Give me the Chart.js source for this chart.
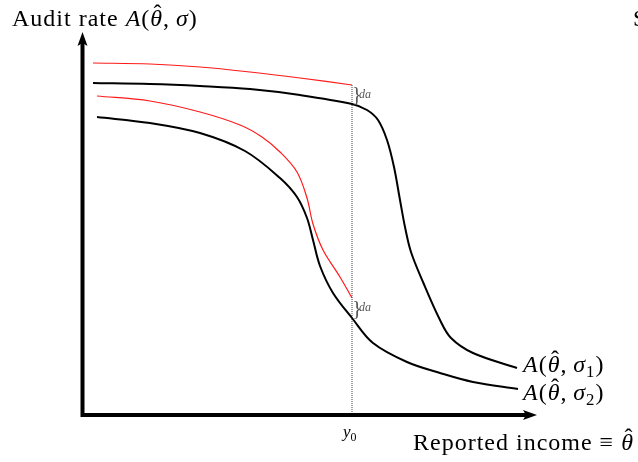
<!DOCTYPE html>
<html>
<head>
<meta charset="utf-8">
<script src="https://cdn.jsdelivr.net/npm/chart.js@4.4.1/dist/chart.umd.min.js"></script>
<style>
  html, body { margin: 0; padding: 0; background: #fff; }
  #chart { display: block; }
</style>
</head>
<body>
<canvas id="chart" width="638" height="462"></canvas>
<script>
/* Audit rate curves — conceptual plot, arbitrary units (origin at the axis corner) */

var sigma1X = [12, 69, 119, 169, 219, 271, 286, 297, 306, 313, 319, 324, 330, 342, 359, 370, 392, 436];
var sigma1Y = [332, 331, 329, 326, 320, 311, 305, 295, 275, 248, 215, 188, 163, 133, 95, 77, 62, 47];

var sigma2X = [16, 69, 119, 164, 199, 216, 226, 232, 239, 252, 271, 292, 326, 359, 392, 437];
var sigma2Y = [298, 292, 282, 264, 237, 218, 197, 175, 149, 122, 97, 72, 53, 42, 33, 26];

var shift1X = [12, 69, 119, 169, 219, 271];
var shift1Y = [352, 351, 348, 343, 337, 330];

var shift2X = [16, 69, 119, 159, 181, 199, 216, 226, 232, 242, 259, 271];
var shift2Y = [319, 314, 303, 290, 278, 263, 243, 217, 191, 165, 138, 117];

var y0Value = 271;
var braceTops = [330, 117];
var braceBottoms = [311, 97];

var FONT = '"Liberation Serif", "DejaVu Serif", serif';

function toPoints(xs, ys) {
  return xs.map(function(x, i) { return { x: x, y: ys[i] }; });
}

function curve(xs, ys, color, width) {
  return {
    data: toPoints(xs, ys),
    showLine: true,
    borderColor: color,
    borderWidth: width,
    pointRadius: 0,
    tension: 0.35,
    fill: false
  };
}

// text made of runs: italic, subscript and hat over a letter
function drawRuns(ctx, x, y, runs, size) {
  runs.forEach(function(r) {
    var fs = r.sub ? size * 0.7 : size;
    ctx.font = (r.it ? 'italic ' : '') + fs + 'px ' + FONT;
    var dy = r.sub ? size * 0.22 : 0;
    ctx.fillText(r.t, x, y + dy);
    var w = ctx.measureText(r.t).width;
    if (r.hat) {
      ctx.save();
      ctx.font = fs + 'px ' + FONT;
      ctx.textAlign = 'center';
      ctx.fillText('\u02c6', x + w / 2 + size * 0.06, y - size * 0.2);
      ctx.restore();
    }
    x += w;
  });
}

function aLabel(sub) {
  var runs = [
    { t: 'A', it: true }, { t: '(' }, { t: '\u03b8', it: true, hat: true },
    { t: ',\u2009' }, { t: '\u03c3', it: true }
  ];
  if (sub) runs.push({ t: sub, sub: true });
  runs.push({ t: ')' });
  return runs;
}

var decorPlugin = {
  id: 'decor',
  afterDatasetsDraw: function(chart) {
    var ctx = chart.ctx;
    var xs = chart.scales.x, ys = chart.scales.y;
    var ox = xs.getPixelForValue(0) + 1.5;
    var oy = ys.getPixelForValue(0);
    var top = ys.getPixelForValue(ys.max);
    var right = xs.getPixelForValue(xs.max);

    ctx.save();
    ctx.strokeStyle = '#000';
    ctx.fillStyle = '#000';
    ctx.lineWidth = 4;
    ctx.beginPath();
    ctx.moveTo(ox, top + 10);
    ctx.lineTo(ox, oy);
    ctx.lineTo(right - 10, oy);
    ctx.stroke();
    // arrow heads
    ctx.beginPath();
    ctx.moveTo(ox, top);
    ctx.lineTo(ox - 5, top + 14);
    ctx.lineTo(ox, top + 11);
    ctx.lineTo(ox + 5, top + 14);
    ctx.closePath();
    ctx.fill();
    ctx.beginPath();
    ctx.moveTo(right, oy);
    ctx.lineTo(right - 14, oy - 5);
    ctx.lineTo(right - 11, oy);
    ctx.lineTo(right - 14, oy + 5);
    ctx.closePath();
    ctx.fill();

    // braces with da
    ctx.fillStyle = '#555';
    var bx = xs.getPixelForValue(y0Value);
    braceTops.forEach(function(t, i) {
      var pt = ys.getPixelForValue(t), pb = ys.getPixelForValue(braceBottoms[i]);
      var h = pb - pt;
      ctx.font = (h * 1.05) + 'px ' + FONT;
      ctx.textBaseline = 'middle';
      ctx.textAlign = 'left';
      ctx.fillText('}', bx, (pt + pb) / 2 + 1);
      ctx.font = 'italic 12px ' + FONT;
      ctx.fillText('da', bx + 7, (pt + pb) / 2);
    });

    // labels
    ctx.fillStyle = '#000';
    ctx.textBaseline = 'alphabetic';
    ctx.textAlign = 'left';
    ctx.letterSpacing = '1px';
    drawRuns(ctx, 12, 26, [{ t: 'Audit rate ' }].concat(aLabel(null)), 24);
    drawRuns(ctx, 523, 372, aLabel('1'), 24);
    drawRuns(ctx, 523, 400, aLabel('2'), 24);
    drawRuns(ctx, 413, 450, [{ t: 'Reported income \u2261 ' }, { t: '\u03b8', it: true, hat: true }], 24);
    ctx.letterSpacing = '0px';
    drawRuns(ctx, bx - 9, 437, [{ t: 'y', it: true }, { t: '0', sub: true }], 17);
    ctx.font = '24px ' + FONT;
    ctx.fillText('S', 633, 26);
    ctx.restore();
  }
};

new Chart(document.getElementById('chart'), {
  type: 'scatter',
  data: {
    datasets: [
      curve(shift1X, shift1Y, '#ff1a1a', 1.2),
      curve(shift2X, shift2Y, '#ff1a1a', 1.2),
      curve(sigma1X, sigma1Y, '#000', 2),
      curve(sigma2X, sigma2Y, '#000', 2),
      {
        data: toPoints([y0Value, y0Value], [shift1Y[shift1Y.length - 1], 0]),
        showLine: true,
        borderColor: '#444',
        borderWidth: 1,
        borderDash: [1, 1],
        pointRadius: 0
      }
    ]
  },
  options: {
    responsive: false,
    animation: false,
    layout: { padding: { left: 81, right: 101, top: 32, bottom: 47 } },
    plugins: { legend: { display: false }, tooltip: { enabled: false } },
    scales: {
      x: { type: 'linear', display: false, min: 0, max: 456 },
      y: { type: 'linear', display: false, min: 0, max: 383 }
    }
  },
  plugins: [decorPlugin]
});
</script>
</body>
</html>
